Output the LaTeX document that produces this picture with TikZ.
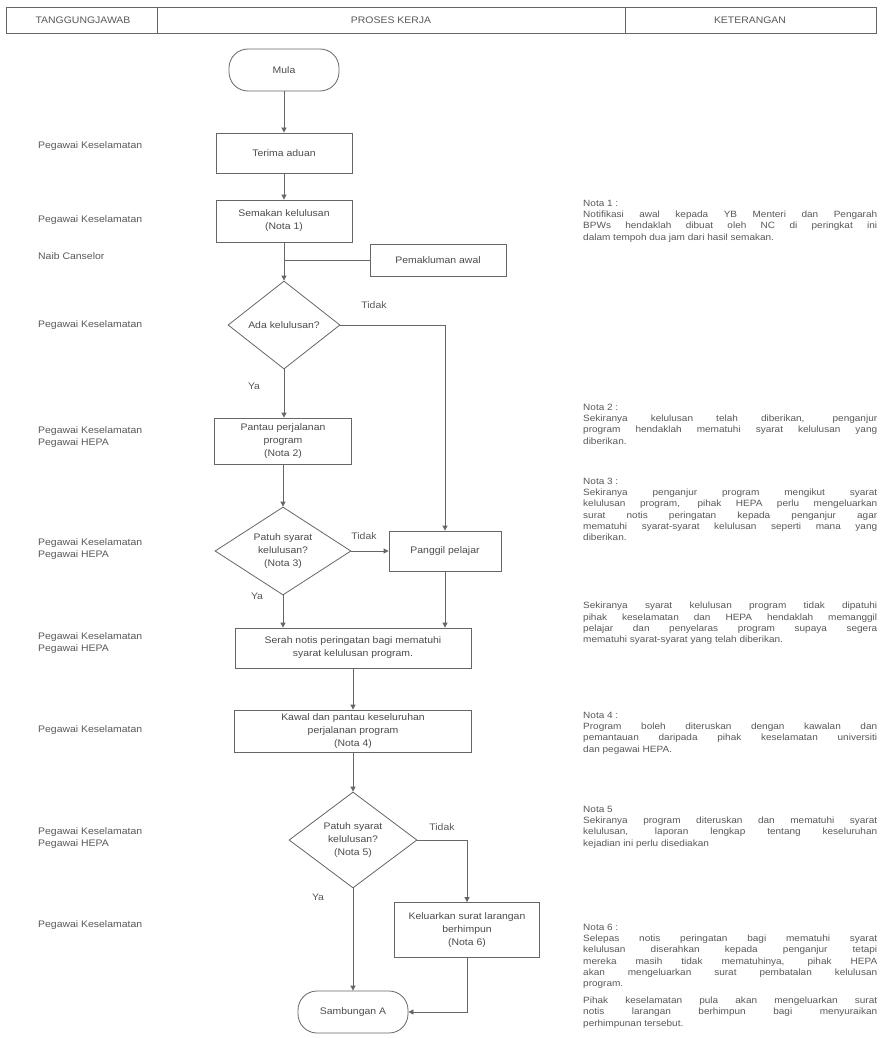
\documentclass[tikz,border=0pt]{standalone}
\usepackage{fontspec}
\setmainfont[FakeStretch=1.1]{Liberation Sans}
\usetikzlibrary{shapes.geometric,arrows.meta}
\tikzset{
  ln/.style={draw=black!60, line width=0.8pt},
  arr/.style={ln, -{Triangle[length=5pt,width=5pt]}},
  proc/.style={ln, rectangle, align=center, text=black!70, font=\fontsize{9.5}{13}\selectfont, inner sep=1pt},
  term/.style={ln, rectangle, rounded corners=19pt, minimum width=110pt, minimum height=42pt, text=black!70, font=\fontsize{9.5}{13}\selectfont},
  dec/.style={ln, diamond, inner sep=0pt},
  dtext/.style={align=center, inner sep=0pt, text=black!70, font=\fontsize{9.5}{13}\selectfont},
  who/.style={anchor=west, align=left, text=black!65, font=\fontsize{9.5}{12.5}\selectfont, inner sep=0pt},
  lbl/.style={text=black!65, font=\fontsize{9.5}{11}\selectfont, inner sep=0pt},
  hdr/.style={text=black!65, font=\fontsize{9.5}{11}\selectfont, inner sep=0pt},
  note/.style={anchor=north west, text width=294pt, align=justify, text=black!65, font=\fontsize{9.1}{11.2}\selectfont, inner sep=0pt}
}
\begin{document}
\begin{tikzpicture}[x=1pt,y=-1pt]
\useasboundingbox (0,0) rectangle (881,1038);
\fill[white] (0,0) rectangle (881,1038);
% header
\draw[ln] (6,7) rectangle (876,33);
\draw[ln] (157,7) -- (157,33);
\draw[ln] (625,7) -- (625,33);
\node[hdr] (h1) at (83,20) {TANGGUNGJAWAB};
\node[hdr] (h2) at (391,20) {PROSES KERJA};
\node[hdr] (h3) at (750,20) {KETERANGAN};
% responsibilities
\node[who] (w1) at (38,146) {Pegawai Keselamatan};
\node[who] (w2) at (38,220) {Pegawai Keselamatan};
\node[who] (w3) at (38,256) {Naib Canselor};
\node[who] (w4) at (38,325) {Pegawai Keselamatan};
\node[who] (w5) at (38,437) {Pegawai Keselamatan\\Pegawai HEPA};
\node[who] (w6) at (38,549) {Pegawai Keselamatan\\Pegawai HEPA};
\node[who] (w7) at (38,643) {Pegawai Keselamatan\\Pegawai HEPA};
\node[who] (w8) at (38,730) {Pegawai Keselamatan};
\node[who] (w9) at (38,838) {Pegawai Keselamatan\\Pegawai HEPA};
\node[who] (w10) at (38,925) {Pegawai Keselamatan};
% flowchart
\node[term] (mula) at (284,70) {Mula};
\node[proc, minimum width=136pt, minimum height=40pt] (terima) at (284,153) {Terima aduan};
\node[proc, minimum width=136pt, minimum height=42pt] (semak) at (284,221) {Semakan kelulusan\\(Nota 1)};
\node[proc, minimum width=136pt, minimum height=32pt] (pemak) at (438,260) {Pemakluman awal};
\node[dec, minimum width=112pt, minimum height=88pt] (ada) at (284,325) {};
\node[dtext] (adat) at (ada) {Ada kelulusan?};
\node[proc, minimum width=137pt, minimum height=46pt] (pantau) at (283,441) {Pantau perjalanan\\program\\(Nota 2)};
\node[dec, minimum width=136pt, minimum height=88pt] (patuh1) at (283,551) {};
\node[dtext] (patuh1t) at (patuh1) {Patuh syarat\\kelulusan?\\(Nota 3)};
\node[proc, minimum width=112pt, minimum height=40pt] (panggil) at (445,551) {Panggil pelajar};
\node[proc, minimum width=236pt, minimum height=40pt] (serah) at (353,648) {Serah notis peringatan bagi mematuhi\\syarat kelulusan program.};
\node[proc, minimum width=237pt, minimum height=42pt] (kawal) at (353,731) {Kawal dan pantau keseluruhan\\perjalanan program\\(Nota 4)};
\node[dec, minimum width=128pt, minimum height=96pt] (patuh2) at (353,840) {};
\node[dtext] (patuh2t) at (patuh2) {Patuh syarat\\kelulusan?\\(Nota 5)};
\node[proc, minimum width=145pt, minimum height=55pt] (kel) at (467,930) {Keluarkan surat larangan\\berhimpun\\(Nota 6)};
\node[term] (samb) at (353,1012) {Sambungan A};
% connectors
\draw[arr] (mula) -- (terima);
\draw[arr] (terima) -- (semak);
\draw[arr] (semak) -- (ada);
\draw[ln] (pemak.west) -- (pemak.west -| semak.south);
\draw[arr] (ada.east) -| (panggil.north);
\draw[arr] (ada.south) -- (ada.south |- pantau.north);
\draw[arr] (pantau) -- (patuh1);
\draw[arr] (patuh1.east) -- (panggil.west);
\draw[arr] (patuh1.south) -- (patuh1.south |- serah.north);
\draw[arr] (panggil.south) -- (panggil.south |- serah.north);
\draw[arr] (serah) -- (kawal);
\draw[arr] (kawal) -- (patuh2);
\draw[arr] (patuh2.east) -| (kel.north);
\draw[arr] (patuh2) -- (samb);
\draw[arr] (kel.south) |- (samb.east);
% branch labels
\node[lbl] (t1) at (374,305) {Tidak};
\node[lbl] (y1) at (254,386) {Ya};
\node[lbl] (t2) at (364,536) {Tidak};
\node[lbl] (y2) at (257,596) {Ya};
\node[lbl] (t3) at (442,827) {Tidak};
\node[lbl] (y3) at (318,897) {Ya};
% notes
\node[note] (n1) at (583,200) {Nota 1 :\\Notifikasi awal kepada YB Menteri dan Pengarah\linebreak BPWs hendaklah dibuat oleh NC di peringkat ini\linebreak dalam tempoh dua jam dari hasil semakan.};
\node[note] (n2) at (583,404) {Nota 2 :\\Sekiranya kelulusan telah diberikan, penganjur\linebreak program hendaklah mematuhi syarat kelulusan yang\linebreak diberikan.};
\node[note] (n3) at (583,478) {Nota 3 :\\Sekiranya penganjur program mengikut syarat\linebreak kelulusan program, pihak HEPA perlu mengeluarkan\linebreak surat notis peringatan kepada penganjur agar\linebreak mematuhi syarat-syarat kelulusan seperti mana yang\linebreak diberikan.};
\node[note] (n3b) at (583,602) {Sekiranya syarat kelulusan program tidak dipatuhi\linebreak pihak keselamatan dan HEPA hendaklah memanggil\linebreak pelajar dan penyelaras program supaya segera\linebreak mematuhi syarat-syarat yang telah diberikan.};
\node[note] (n4) at (583,712) {Nota 4 :\\Program boleh diteruskan dengan kawalan dan\linebreak pemantauan daripada pihak keselamatan universiti\linebreak dan pegawai HEPA.};
\node[note] (n5) at (583,806) {Nota 5\\Sekiranya program diteruskan dan mematuhi syarat\linebreak kelulusan, laporan lengkap tentang keseluruhan\linebreak kejadian ini perlu disediakan};
\node[note] (n6) at (583,924) {Nota 6 :\\Selepas notis peringatan bagi mematuhi syarat\linebreak kelulusan diserahkan kepada penganjur tetapi\linebreak mereka masih tidak mematuhinya, pihak HEPA\linebreak akan mengeluarkan surat pembatalan kelulusan\linebreak program.\\[6pt]Pihak keselamatan pula akan mengeluarkan surat\linebreak notis larangan berhimpun bagi menyuraikan\linebreak perhimpunan tersebut.};
\end{tikzpicture}
\end{document}
